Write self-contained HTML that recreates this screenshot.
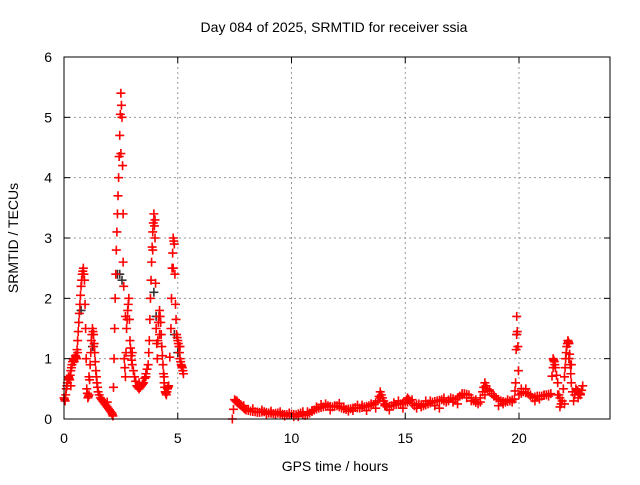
<!DOCTYPE html>
<html><head><meta charset="utf-8"><style>
body{margin:0;background:#fff}
svg text{font-family:"Liberation Sans",sans-serif;font-size:14px;fill:#000}
</style></head><body>
<svg id="chart" width="640" height="480" xmlns="http://www.w3.org/2000/svg">
<text x="334" y="32" text-anchor="middle">Day 084 of 2025, SRMTID for receiver ssia</text>
<text x="335" y="471" text-anchor="middle">GPS time / hours</text>
<text transform="translate(18,238) rotate(-90)" text-anchor="middle">SRMTID / TECUs</text>
<g id="grid"></g><g id="marks"></g>
<rect x="64" y="57" width="546" height="362" fill="none" stroke="#000" stroke-width="1"/>
<g id="ticks"></g>
</svg>
<script>
const xTicks=[0,5,10,15,20];
const yTicks=[0,1,2,3,4,5,6];
const redT=[0,0.05,0.1,0.15,0.2,0.25,0.3,0.35,0.4,0.45,0.5,0.55,0.6,0.65,0.7,0.75,0.8,0.85,0.9,0.95,1.0,1.05,1.1,1.15,1.2,1.25,1.3,1.35,1.4,1.45,1.5,1.6,1.7,1.8,1.9,2.0,2.1,2.15,2.2,2.25,2.3,2.35,2.4,2.45,2.5,2.55,2.6,2.65,2.7,2.75,2.8,2.85,2.9,2.95,3.0,3.1,3.2,3.3,3.4,3.5,3.6,3.7,3.75,3.8,3.85,3.9,3.95,4.0,4.05,4.1,4.15,4.2,4.25,4.3,4.35,4.4,4.45,4.5,4.55,4.6,4.7,4.75,4.8,4.85,4.9,4.95,5.0,5.05,5.1,5.15,5.2,5.25,
7.4,7.5,7.6,7.7,7.8,7.9,8.0,8.2,8.4,8.6,8.8,9.0,9.2,9.4,9.6,9.8,10.0,10.2,10.4,10.6,10.8,11.0,11.2,11.4,11.6,11.8,12.0,12.2,12.4,12.6,12.8,13.0,13.2,13.4,13.6,13.8,13.9,14.0,14.1,14.2,14.4,14.6,14.8,15.0,15.1,15.2,15.4,15.6,15.8,16.0,16.2,16.4,16.6,16.8,17.0,17.2,17.4,17.6,17.8,18.0,18.2,18.4,18.5,18.6,18.8,19.0,19.2,19.4,19.6,19.8,19.85,19.9,19.95,20.0,20.2,20.4,20.6,20.8,21.0,21.2,21.4,21.5,21.55,21.6,21.7,21.8,21.9,22.0,22.05,22.1,22.15,22.2,22.25,22.3,22.4,22.5,22.6,22.7,22.8];
const redV=[0.35,0.3,0.5,0.6,0.7,0.65,0.8,0.9,1.0,0.95,1.05,1.0,1.3,1.6,1.9,2.2,2.4,2.5,2.3,1.5,0.5,0.35,0.4,0.9,1.3,1.5,1.4,1.1,0.8,0.6,0.45,0.35,0.3,0.25,0.2,0.15,0.1,0.05,1.0,2.0,2.8,3.4,4.0,4.7,5.4,5.0,3.4,1.0,0.7,1.5,1.8,2.0,1.3,1.05,0.9,0.7,0.55,0.5,0.55,0.6,0.75,0.9,1.3,2.0,2.6,3.1,3.4,3.0,1.5,1.0,1.6,1.8,1.6,1.2,0.9,0.6,0.45,0.4,0.5,0.55,1.5,2.5,3.0,2.9,1.9,1.4,1.3,1.2,1.0,0.9,0.85,0.75,
0.0,0.32,0.28,0.25,0.22,0.18,0.15,0.13,0.12,0.11,0.12,0.1,0.09,0.1,0.08,0.07,0.08,0.07,0.1,0.06,0.1,0.15,0.18,0.2,0.22,0.2,0.22,0.18,0.16,0.17,0.19,0.18,0.2,0.22,0.24,0.3,0.45,0.35,0.25,0.2,0.22,0.24,0.25,0.28,0.35,0.3,0.22,0.25,0.22,0.25,0.28,0.3,0.32,0.28,0.35,0.32,0.38,0.42,0.4,0.3,0.25,0.45,0.6,0.5,0.42,0.35,0.3,0.28,0.3,0.33,0.6,1.7,1.2,0.4,0.45,0.42,0.35,0.38,0.38,0.4,0.42,1.0,0.95,0.85,0.6,0.2,0.3,0.7,1.0,1.2,1.3,1.25,0.9,0.6,0.3,0.5,0.45,0.4,0.55];
// extra scatter points forming the noisy band
const bandT=[0.3,0.6,1.1,1.3,1.9,2.5,2.6,2.7,3.0,3.3,3.6,3.9,4.0,4.2,4.4,4.8,5.1,
7.6,7.9,8.3,8.7,9.1,9.5,9.9,10.3,10.7,11.1,11.5,11.9,12.3,12.7,13.1,13.5,13.9,14.3,14.7,15.1,15.5,15.9,16.3,16.7,17.1,17.5,17.9,18.3,18.7,19.1,19.5,19.9,20.3,20.7,21.1,21.5,21.7,21.8,22.0,22.3,22.6,
7.7,8.1,8.5,8.9,9.3,9.7,10.1,10.5,10.9,11.3,11.7,12.1,12.5,12.9,13.3,13.7,14.1,14.5,14.9,15.3,15.7,16.1,16.5,16.9,17.3,17.7,18.1,18.5,18.9,19.3,19.7,20.1,20.5,20.9,21.3,22.2,22.7];
const bandV=[0.55,1.1,0.7,1.2,0.28,4.4,2.6,1.7,1.1,0.6,0.7,2.8,3.3,1.4,0.7,2.5,1.2,
0.3,0.22,0.17,0.15,0.13,0.12,0.1,0.04,0.12,0.2,0.25,0.22,0.2,0.14,0.23,0.25,0.35,0.15,0.3,0.28,0.18,0.3,0.22,0.35,0.28,0.42,0.3,0.28,0.48,0.22,0.32,1.4,0.5,0.3,0.4,0.85,0.4,0.35,0.25,0.9,0.35,
0.26,0.16,0.11,0.08,0.07,0.05,0.04,0.12,0.14,0.24,0.15,0.26,0.13,0.23,0.14,0.18,0.22,0.27,0.18,0.32,0.2,0.3,0.18,0.3,0.25,0.35,0.32,0.4,0.38,0.25,0.28,0.5,0.4,0.33,0.38,1.0,0.42];
const blackT=[0.75,1.25,2.35,2.45,2.55,3.95,4.05,4.85,5.0,19.9,22.2];
const blackV=[1.8,1.2,2.4,2.4,2.3,2.1,1.7,1.4,1.1,1.4,1.0];
const NS='http://www.w3.org/2000/svg';
const X=t=>64+t*546/24, Y=v=>419-v*362/6;
const grid=document.getElementById('grid'),ticks=document.getElementById('ticks'),marks=document.getElementById('marks');
function mk(tag,attrs,parent){const e=document.createElementNS(NS,tag);for(const k in attrs)e.setAttribute(k,attrs[k]);parent.appendChild(e);return e;}
xTicks.forEach(t=>{
  if(t>0){const g=mk('line',{x1:X(t),x2:X(t),y1:57,y2:419,stroke:'#999','stroke-dasharray':'2,3'},grid);
  
  }
  mk('line',{x1:X(t),x2:X(t),y1:419,y2:413,stroke:'#000'},ticks);
  mk('line',{x1:X(t),x2:X(t),y1:57,y2:63,stroke:'#000'},ticks);
  const l=mk('text',{x:X(t),y:443,'text-anchor':'middle'},ticks);l.textContent=t;
  
  
});
yTicks.forEach(v=>{
  if(v>0&&v<6){const g=mk('line',{x1:64,x2:610,y1:Y(v),y2:Y(v),stroke:'#999','stroke-dasharray':'2,3'},grid);
  
  }
  mk('line',{x1:64,x2:70,y1:Y(v),y2:Y(v),stroke:'#000'},ticks);
  mk('line',{x1:610,x2:604,y1:Y(v),y2:Y(v),stroke:'#000'},ticks);
  const l=mk('text',{x:52,y:Y(v)+5,'text-anchor':'end'},ticks);l.textContent=v;
  
  
});
function plus(t,v,c,name){
  const x=X(t),y=Y(v);
  const p=mk('path',{d:`M${x-4.5},${y}h9M${x},${y-4.5}v9`,stroke:c,'stroke-width':1.6,fill:'none'},marks);
  
  
}
blackT.forEach((t,i)=>plus(t,blackV[i],'#333','black-point'));
bandT.forEach((t,i)=>plus(t,bandV[i],'#ff0000','red-point'));
redT.forEach((t,i)=>{
  plus(t,redV[i],'#ff0000','red-point');
  if(i<redT.length-1&&redT[i+1]-t<0.25){
    plus((t+redT[i+1])/2,(redV[i]+redV[i+1])/2,'#ff0000','red-point');
  }
});
</script>
</body></html>
